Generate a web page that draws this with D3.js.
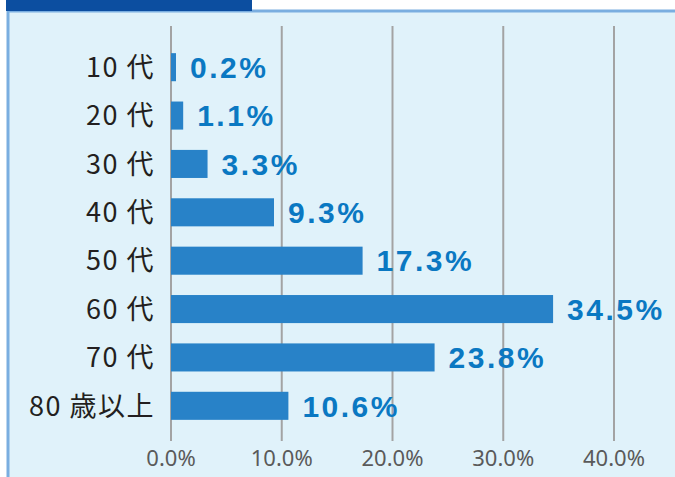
<!DOCTYPE html>
<html>
<head>
<meta charset="utf-8">
<script src="https://cdn.jsdelivr.net/npm/d3@7"></script>
<style>
    body { margin: 0; background: #ffffff; }
    svg { display: block; }
    .axisTick { font-family: 'Noto Sans', sans-serif; font-size: 22px; fill: #5a5a5a; }
    .catLabel { font-family: 'Noto Sans CJK JP', sans-serif; font-size: 27px; fill: #231f20; letter-spacing: 1.5px; }
    .valLabel { font-family: 'Liberation Sans', Arial, sans-serif; font-size: 30px; font-weight: bold; fill: #0a78c2; letter-spacing: 2.5px; }
</style>
</head>
<body>
<svg id="chart" width="675" height="477"></svg>
<script>
const categories = ['10 代', '20 代', '30 代', '40 代', '50 代', '60 代', '70 代', '80 歳以上'];
const values = [0.2, 1.1, 3.3, 9.3, 17.3, 34.5, 23.8, 10.6];
const tickValues = [0, 10, 20, 30, 40];

const plot = {
    left: 171,
    right: 614,
    top: 43,
    bottom: 430,
    gridTop: 26,
    gridBottom: 441,
};

const svg = d3.select('#chart');

// Panel background and border
svg.append('rect')
    .attr('x', 8).attr('y', 11)
    .attr('width', 667).attr('height', 466)
    .attr('fill', '#e0f2fa');
svg.append('line')
    .attr('x1', 8).attr('x2', 675).attr('y1', 11).attr('y2', 11)
    .attr('stroke', '#7aaee0').attr('stroke-width', 3);
svg.append('line')
    .attr('x1', 8).attr('x2', 8).attr('y1', 11).attr('y2', 477)
    .attr('stroke', '#7aaee0').attr('stroke-width', 3);
svg.append('rect')
    .attr('x', 6).attr('y', 0)
    .attr('width', 246).attr('height', 11)
    .attr('fill', '#0c4ea0');

const xScale = d3.scaleLinear([0, 40], [plot.left, plot.right]);
const yScale = d3.scaleBand(categories, [plot.top, plot.bottom])
    .paddingInner(0.42)
    .paddingOuter(0.21);

// Gridlines
svg.append('g')
    .selectAll('line')
    .data(tickValues)
    .enter()
    .append('line')
    .attr('x1', d => xScale(d)).attr('x2', d => xScale(d))
    .attr('y1', plot.gridTop).attr('y2', plot.gridBottom)
    .attr('stroke', '#a3a3a3').attr('stroke-width', 2);

// Tick labels
svg.append('g')
    .selectAll('text')
    .data(tickValues)
    .enter()
    .append('text')
    .attr('class', 'axisTick')
    .attr('x', d => xScale(d))
    .attr('y', 466)
    .attr('text-anchor', 'middle')
    .text(d => d.toFixed(1) + '%');

// Bars
svg.append('g')
    .selectAll('rect')
    .data(values)
    .enter()
    .append('rect')
    .attr('x', xScale(0))
    .attr('y', (d, i) => yScale(categories[i]))
    .attr('width', d => Math.max(xScale(d) - xScale(0), 5))
    .attr('height', yScale.bandwidth())
    .attr('fill', '#2882c8');

// Category labels
svg.append('g')
    .selectAll('text')
    .data(categories)
    .enter()
    .append('text')
    .attr('class', 'catLabel')
    .attr('x', 155)
    .attr('y', d => yScale(d) + yScale.bandwidth() / 2)
    .attr('dy', '0.36em')
    .attr('text-anchor', 'end')
    .text(d => d);

// Value labels
svg.append('g')
    .selectAll('text')
    .data(values)
    .enter()
    .append('text')
    .attr('class', 'valLabel')
    .attr('x', d => Math.max(xScale(d), xScale(0) + 5) + 14)
    .attr('y', (d, i) => yScale(categories[i]) + yScale.bandwidth() / 2)
    .attr('dy', '0.36em')
    .text(d => d.toFixed(1) + '%');
</script>
</body>
</html>
